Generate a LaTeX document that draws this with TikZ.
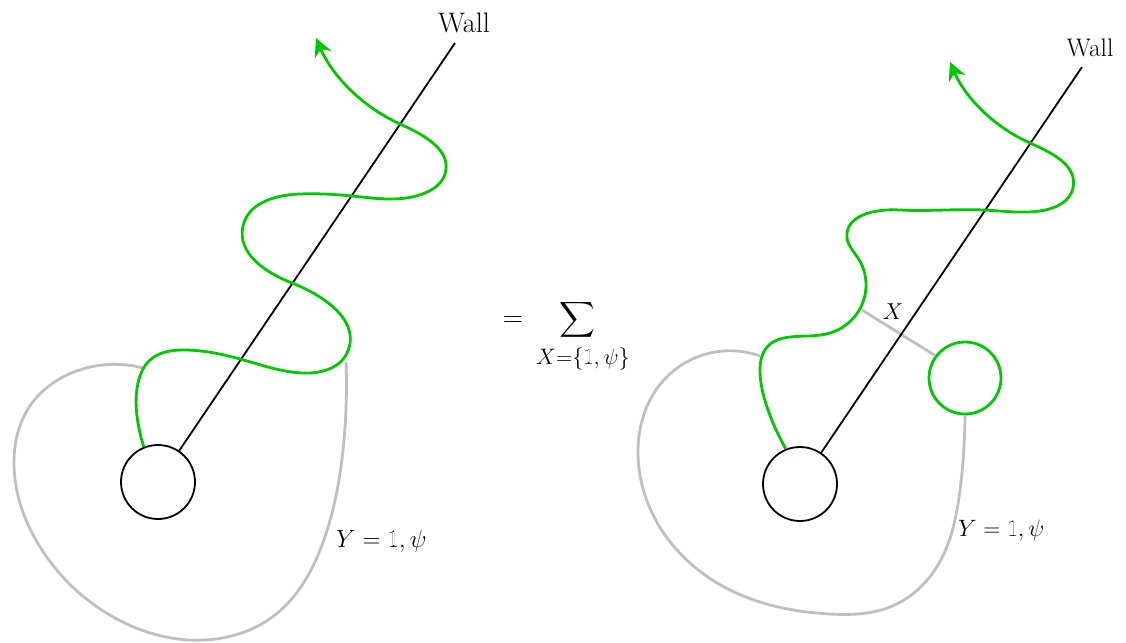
\RequirePackage{fix-cm}
\documentclass[tikz,border=0pt]{standalone}
\usepackage{amsmath}
\usetikzlibrary{arrows.meta,hobby}
\definecolor{lgreen}{RGB}{0,200,0}
\definecolor{lgray}{RGB}{191,191,191}
\newcommand{\dsone}{\mbox{\ooalign{1\cr\hfil{\color{white}\rule[0.07em]{0.03em}{0.56em}}\hfil\cr}}}
\begin{document}
\begin{tikzpicture}[x=1pt,y=-1pt,
  wallline/.style={line width=1.8pt},
  blob/.style={circle, draw, line width=1.8pt, minimum size=74pt, inner sep=0pt},
  gblob/.style={circle, draw=lgreen, line width=2.8pt, minimum size=72pt, inner sep=0pt},
  greenpath/.style={draw=lgreen, line width=2.8pt, line join=round, use Hobby shortcut},
  graypath/.style={draw=lgray, line width=2.8pt, use Hobby shortcut},
  arrowgreen/.style={-{Stealth[length=18pt,width=18pt]}},
  lbl/.style={inner sep=0pt}]
\useasboundingbox (0,0) rectangle (1126,642);

% ---------- left diagram ----------
\node[blob] (lc) at (158,482) {};
\coordinate (lw) at (455,43);
\node[lbl, font=\fontsize{28.2}{34}\selectfont] (lwall) at (464,23) {Wall};
\coordinate (lg0) at (lc.112);
\draw[graypath] (346,362) .. (343,450) .. (322,545) .. (275,615) .. (205,640)
 .. (115,618) .. (42,550) .. (14,465) .. (32,403) .. (67,375) .. (143,368);
\draw[wallline] (lc) -- (lw);
\draw[greenpath, arrowgreen] (lg0) .. (138,423) .. (138,383) .. (150,360)
 .. (185,350) .. (240,359) .. (302,373) .. (347,353) .. (292,283) .. (243,226)
 .. (300,194) .. (352,196) .. (425,193) .. (445,174) .. (400,124) .. (316,38);
\node[lbl, anchor=west, font=\fontsize{24.9}{30}\selectfont] (ly) at (336,541) {$Y=\dsone,\psi$};

% ---------- middle ----------
\node[lbl, font=\fontsize{28}{34}\selectfont] (eq) at (513,322) {$=$};
\node[lbl, font=\fontsize{24.3}{30}\selectfont] (sum) at (577,320) {$\displaystyle\sum$};
\node[lbl, font=\fontsize{22.4}{27}\selectfont, anchor=north] (sub) at (583,347) {$X{=}\{\dsone,\psi\}$};

% ---------- right diagram ----------
\node[blob] (rc) at (800,484) {};
\node[gblob] (gs) at (965,378) {};
\coordinate (rw) at (1082,67);
\node[lbl, font=\fontsize{25.4}{31}\selectfont] (rwall) at (1090,48) {Wall};
\coordinate (rg0) at (rc.112);
\coordinate (xg) at (862,310);
\coordinate (gs0) at (gs.270);
\draw[graypath] (gs0) .. (960,490) .. (938,565) .. (890,607) .. (830,614)
 .. (730,590) .. (665,535) .. (638,450) .. (650,400) .. (680,366) .. (760,356);
\draw[graypath] (xg) -- (gs.143);
\draw[wallline] (rc) -- (rw);
\draw[greenpath, arrowgreen] (rg0) .. (767,407) .. (760,372) .. (768,346)
 .. (790,337) .. (830,333) .. (858,312) .. (866,283) .. (858,258) .. (847,238)
 .. (900,210) .. (983,210) .. (1040,211) .. (1073,188) .. (1030,143) .. (950,62);
\node[lbl, font=\fontsize{23}{28}\selectfont] (xl) at (893,312) {$X$};
\node[lbl, anchor=west, font=\fontsize{23.7}{29}\selectfont] (ry) at (958,531) {$Y=\dsone,\psi$};
\end{tikzpicture}
\end{document}
